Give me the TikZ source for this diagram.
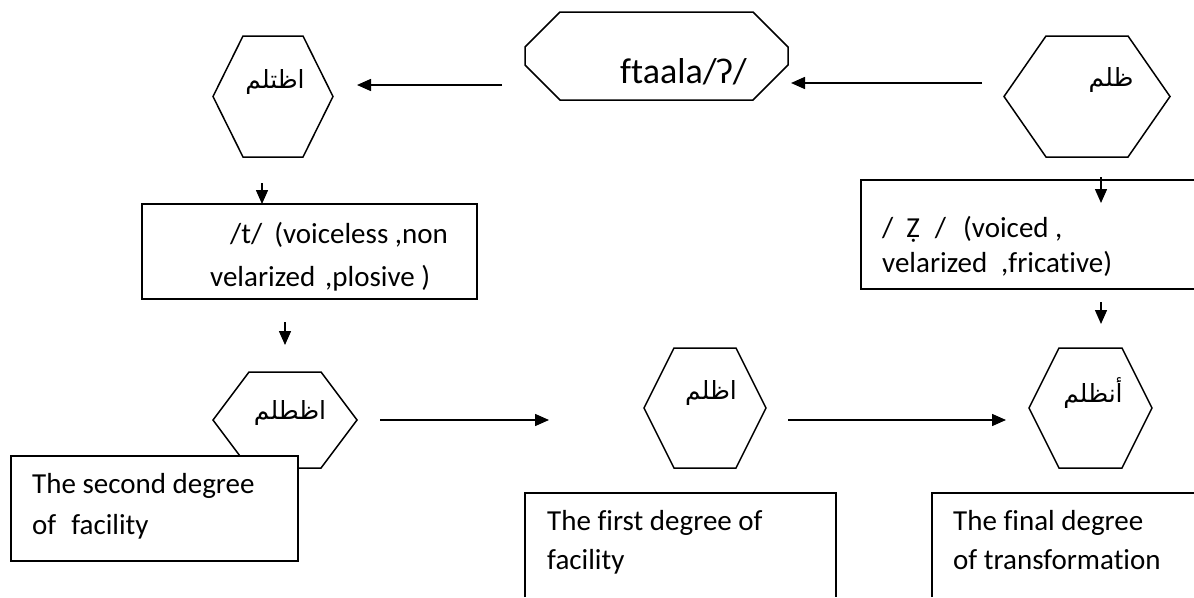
\documentclass[tikz,border=0pt]{standalone}
\usepackage{fontspec}
\setmainfont{Carlito}[Ligatures=NoCommon]
\newfontfamily\arabicfont[Script=Arabic]{DejaVu Sans}
\TeXXeTstate=1
\usetikzlibrary{arrows.meta}
\newcommand{\hexdraw}[2]{%
  \draw[ln] (#1.west) -- ([xshift=#2]#1.north west) -- ([xshift=-#2]#1.north east)
    -- (#1.east) -- ([xshift=-#2]#1.south east) -- ([xshift=#2]#1.south west) -- cycle;}
\begin{document}
\begin{tikzpicture}[x=1pt,y=-1pt,
  ln/.style={line width=1.5pt, line join=miter},
  shp/.style={draw=none, inner sep=0pt, outer sep=0pt},
  boxln/.style={line width=1.5pt},
  arr/.style={line width=1.5pt, -{Triangle[length=14pt,width=12pt]}},
  txt/.style={inner sep=0pt, anchor=north west, align=left},
  ar/.style={inner sep=0pt, font=\arabicfont\fontsize{25}{29}\selectfont}]
\useasboundingbox[fill=white] (0,0) rectangle (1194,597);

% ---- octagon
\node[shp, minimum width=263pt, minimum height=88pt] (oct) at (656.5,56) {};
\draw[ln] ([xshift=35pt]oct.north west) -- ([xshift=-35pt]oct.north east)
  -- ([yshift=-35pt]oct.north east) -- ([yshift=35pt]oct.south east)
  -- ([xshift=-35pt]oct.south east) -- ([xshift=35pt]oct.south west)
  -- ([yshift=35pt]oct.south west) -- ([yshift=-35pt]oct.north west) -- cycle;
\node[anchor=base west, inner sep=0pt, font=\fontsize{36}{40}\selectfont] (octt) at (620,83) {ftaala/ʔ/};

% ---- hexagons
\node[shp, minimum width=120pt, minimum height=121pt] (h1) at (273,96.5) {};
\hexdraw{h1}{30pt}
\node[ar] (h1t) at (275,82) {\beginR اظتلم\endR};

\node[shp, minimum width=166pt, minimum height=121pt] (htr) at (1087,96.5) {};
\hexdraw{htr}{42pt}
\node[ar] (htrt) at (1111,80) {\beginR ظلم\endR};

\node[shp, minimum width=144pt, minimum height=96pt] (hbl) at (285,420) {};
\hexdraw{hbl}{36pt}
\node[ar] (hblt) at (290,413) {\beginR اظطلم\endR};

\node[shp, minimum width=122pt, minimum height=120pt] (hmid) at (705,408) {};
\hexdraw{hmid}{30pt}
\node[ar] (hmidt) at (711,393) {\beginR اظلم\endR};

\node[shp, minimum width=123pt, minimum height=120pt] (hbr) at (1090.5,408) {};
\hexdraw{hbr}{30pt}
\node[ar] (hbrt) at (1093,393) {\beginR أنظلم\endR};

% ---- boxes
\node[shp, draw, boxln, minimum width=335pt, minimum height=95pt] (bt) at (309.5,251.5) {};
\node[txt, font=\fontsize{29}{43}\selectfont] (btt) at (210,222)
  {\hspace*{20pt}/t/\hspace{12pt}(voiceless ,non\\velarized\hspace{10pt},plosive )};

\node[shp, minimum width=333pt, minimum height=109pt] (bz) at (1027.5,234.5) {};
\draw[boxln] (bz.north east) -- (bz.north west) -- (bz.south west) -- (bz.south east);
\node[txt, font=\fontsize{29}{35}\selectfont] (bzt) at (882,216)
  {/\hspace{13pt}Ẓ\hspace{15pt}/\hspace{17pt}(voiced ,\\velarized\hspace{14pt},fricative)};

\node[shp, draw, boxln, fill=white, minimum width=287pt, minimum height=105pt] (b2) at (154.5,508.5) {};
\node[txt, font=\fontsize{29}{41}\selectfont] (b2t) at (32,473.5)
  {The second degree\\of\hspace{15pt}facility};

\node[shp, minimum width=311pt, minimum height=104pt] (b1) at (680.5,545) {};
\draw[boxln] (b1.south west) -- (b1.north west) -- (b1.north east) -- (b1.south east);
\node[txt, font=\fontsize{29}{39}\selectfont] (b1t) at (547,510.5)
  {The first degree of\\facility};

\node[shp, minimum width=262pt, minimum height=104pt] (bf) at (1063,545) {};
\draw[boxln] (bf.south west) -- (bf.north west) -- (bf.north east);
\node[txt, font=\fontsize{29}{39}\selectfont] (bft) at (953,510.5)
  {The final degree\\of transformation};

% ---- connectors
\coordinate (a1s) at (502,85);  \coordinate (a1e) at (357,85);
\coordinate (a2s) at (982,83);  \coordinate (a2e) at (791,83);
\coordinate (a3s) at (262,183); \coordinate (a3e) at (262,204);
\coordinate (a4s) at (285,322); \coordinate (a4e) at (285,345);
\coordinate (a5s) at (1101,177);\coordinate (a5e) at (1101,203);
\coordinate (a6s) at (1101,302);\coordinate (a6e) at (1101,324);
\coordinate (a7s) at (380,420); \coordinate (a7e) at (549,420);
\coordinate (a8s) at (788,420); \coordinate (a8e) at (1006,420);
\foreach \i in {1,...,8} {\draw[arr] (a\i s) -- (a\i e);}
\end{tikzpicture}
\end{document}
